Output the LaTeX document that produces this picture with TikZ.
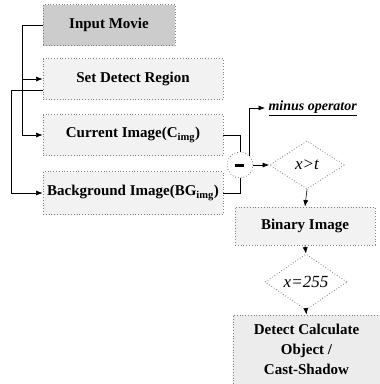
\documentclass[tikz,border=0pt]{standalone}
\usepackage{fontspec}
\setmainfont{Liberation Serif}
\usetikzlibrary{shapes.geometric,arrows.meta}
\begin{document}
\begin{tikzpicture}[x=1pt,y=-1pt,
  box/.style={draw=gray,dotted,line width=0.8pt,fill=gray!10,minimum width=180pt,minimum height=41pt,inner sep=0pt,font=\fontsize{15}{20}\selectfont\bfseries},
  dia/.style={draw=gray,dotted,line width=0.8pt,diamond,fill=white,inner sep=0pt,font=\fontsize{17}{19}\selectfont\itshape},
  wire/.style={draw,line width=0.6pt},
  link/.style={wire,-{Latex[length=6.5pt,width=5pt]}}]
\useasboundingbox (0,0) rectangle (380,384);
\node[box,fill=gray!40,minimum width=132pt] (movie) at (109,25) {Input Movie};
\node[box] (region) at (133,79) {Set Detect Region};
\node[box] (cur) at (133,135) {Current Image(C\textsubscript{img})};
\node[box,minimum height=43pt] (bg) at (133,193) {Background Image(BG\textsubscript{img})};
\node[circle,draw=gray,dotted,line width=0.8pt,minimum size=26pt,inner sep=0pt] (minus) at (240,165) {\rule{9pt}{3pt}};
\node[dia,minimum width=75pt,minimum height=48pt] (thr) at (307,165) {x>t};
\node[box,minimum width=140pt,minimum height=38pt] (bin) at (305,226) {Binary Image};
\node[dia,minimum width=82pt,minimum height=37pt] (eq) at (306,282) {x=255};
\node[box,fill=gray!15,minimum width=147pt,minimum height=69pt,align=center] (det) at (306.5,349.5) {Detect Calculate\\Object /\\Cast-Shadow};
\node[anchor=west,font=\fontsize{14}{16}\selectfont\bfseries\itshape] (op) at (265,108) {\underline{minus operator}};
\draw[link] (movie.west) -- ++(-20,0) |- (cur.west);
\draw[link] (movie.west) ++(-20,0) |- (region.west);
\draw[link] ([yshift=-11pt]region.west) -- ++(-31,0) |- (bg.west);
\draw[wire] (cur.east) -| (minus.north);
\draw[wire] (bg.east) -| (minus.south);
\draw[link] (minus.45) |- (op.west);
\draw[link] (minus.east) -- (thr.west);
\draw[link] (thr.south) -- (bin.north);
\draw[link] (bin.south) -- (eq.north);
\draw[link] (eq.south) -- (det.north);
\end{tikzpicture}
\end{document}
